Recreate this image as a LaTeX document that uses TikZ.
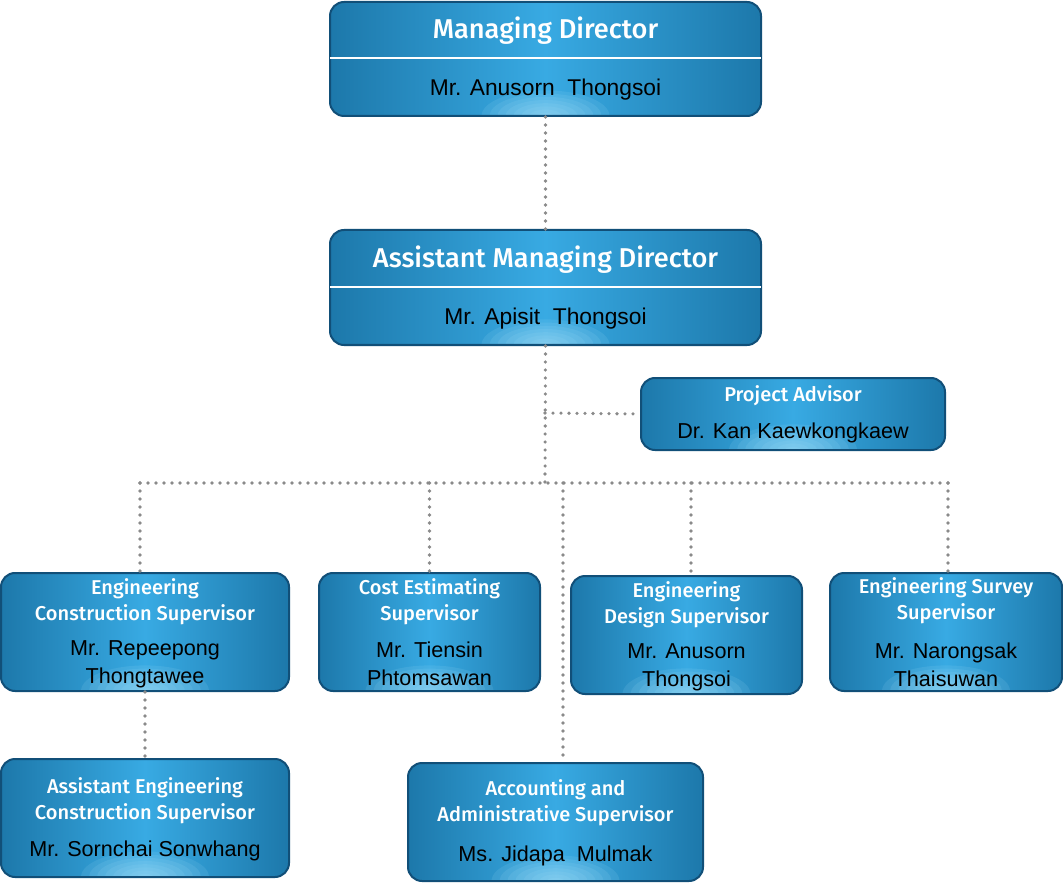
\documentclass[tikz,border=0pt]{standalone}
\usepackage{fontspec}
\setmainfont{Liberation Sans}
\newfontfamily\ttlfont{Fira Sans Medium}
\definecolor{edgec}{HTML}{0F5F8E}
\definecolor{midc}{HTML}{38AAE3}
\definecolor{bordc}{HTML}{114F78}
\definecolor{glowc}{HTML}{A8E0F8}
\definecolor{dotc}{HTML}{8A8A8A}
\pgfdeclarehorizontalshading{boxsh}{100bp}{color(0bp)=(edgec); color(20bp)=(edgec!80!midc); color(50bp)=(midc); color(80bp)=(edgec!80!midc); color(100bp)=(edgec)}
\tikzset{
  orgbox/.style={draw=bordc, line width=2pt, rounded corners=14pt, shade, shading=boxsh,
    path picture={\foreach \r in {1,...,8}{\fill[glowc, opacity=0.12] (path picture bounding box.south) ellipse [x radius=\r*8pt, y radius=\r*3.2pt];}}},
  ttl/.style={text=white, font=\ttlfont\fontsize{20}{26}\selectfont, align=center},
  bigttl/.style={text=white, font=\ttlfont\fontsize{27.2}{30}\selectfont, align=center},
  nm/.style={text=black, font=\fontsize{21.6}{28}\selectfont, align=center},
  bignm/.style={text=black, font=\fontsize{22.8}{28}\selectfont, align=center},
  link/.style={draw=dotc, line width=3.6pt, line cap=round, dash pattern=on 0pt off 8pt},
}
\begin{document}
\begin{tikzpicture}[x=1pt,y=-1pt]
\useasboundingbox (0,0) rectangle (1063,885);
% boxes
\node[orgbox, minimum width=431pt, minimum height=114pt] (md) at (545.5,59) {};
\node[orgbox, minimum width=431pt, minimum height=115pt] (amd) at (545.5,287.5) {};
\node[orgbox, minimum width=304pt, minimum height=72pt] (pa) at (793,414) {};
\node[orgbox, minimum width=288pt, minimum height=118pt] (ecs) at (145,632) {};
\node[orgbox, minimum width=221pt, minimum height=118pt] (ces) at (429.5,632) {};
\node[orgbox, minimum width=231pt, minimum height=118pt] (eds) at (686.5,635) {};
\node[orgbox, minimum width=232pt, minimum height=118pt] (ess) at (946,632) {};
\node[orgbox, minimum width=288pt, minimum height=118pt] (aecs) at (145,818) {};
\node[orgbox, minimum width=295pt, minimum height=118pt] (aas) at (555.5,822) {};
% dividers
\draw[white, line width=2pt] ([xshift=1pt]md.west |- 0,58) coordinate (mdl) -- ([xshift=-1pt]md.east |- 0,58) coordinate (mdr);
\draw[white, line width=2pt] ([xshift=1pt]amd.west |- 0,287) coordinate (amdl) -- ([xshift=-1pt]amd.east |- 0,287) coordinate (amdr);
% texts
\node[bigttl] (mdt) at (545.5,31) {Managing Director};
\node[bignm] (mdn) at (545.5,90) {Mr. Anusorn\ \ Thongsoi};
\node[bigttl] (amdt) at (545.5,260) {Assistant Managing Director};
\node[bignm] (amdn) at (545.5,319) {Mr. Apisit\ \ Thongsoi};
\node[ttl] (pat) at (793,396) {Project Advisor};
\node[nm] (pan) at (793,433) {Dr. Kan Kaewkongkaew};
\node[ttl] (ecst) at (145,602) {Engineering\\Construction Supervisor};
\node[nm] (ecsn) at (145,664) {Mr. Repeepong\\Thongtawee};
\node[ttl] (cest) at (429.5,602) {Cost Estimating\\Supervisor};
\node[nm] (cesn) at (429.5,664) {Mr. Tiensin\\Phtomsawan};
\node[ttl] (edst) at (686.5,605) {Engineering\\Design Supervisor};
\node[nm] (edsn) at (686.5,667) {Mr. Anusorn\\Thongsoi};
\node[ttl] (esst) at (946,601) {Engineering Survey\\Supervisor};
\node[nm] (essn) at (946,665) {Mr. Narongsak\\Thaisuwan};
\node[ttl] (aecst) at (145,800.5) {Assistant Engineering\\Construction Supervisor};
\node[nm] (aecsn) at (145,851) {Mr. Sornchai Sonwhang};
\node[ttl] (aast) at (555.5,802.5) {Accounting and\\Administrative Supervisor};
\node[nm] (aasn) at (555.5,856) {Ms. Jidapa\ \ Mulmak};
% connectors
\coordinate (hub) at (545,483);
\coordinate (pab) at (545,413);
\coordinate (bl) at (140,483);
\coordinate (br) at (948,483);
\coordinate (b3) at (691,483);
\coordinate (b5) at (563,483);
\draw[link] (md.south) -- (amd.north);
\draw[link] (amd.south) -- (hub);
\draw[link] (pab) -- (pa.west);
\draw[link] (bl) -- (br);
\draw[link] (bl) -- (bl |- ecs.north);
\draw[link] (ces.north |- hub) -- (ces.north);
\draw[link] (b3) -- (b3 |- eds.north);
\draw[link] (br) -- (br |- ess.north);
\draw[link] (b5) -- (b5 |- aas.north);
\draw[link] (ecs.south) -- (aecs.north);
\end{tikzpicture}
\end{document}
